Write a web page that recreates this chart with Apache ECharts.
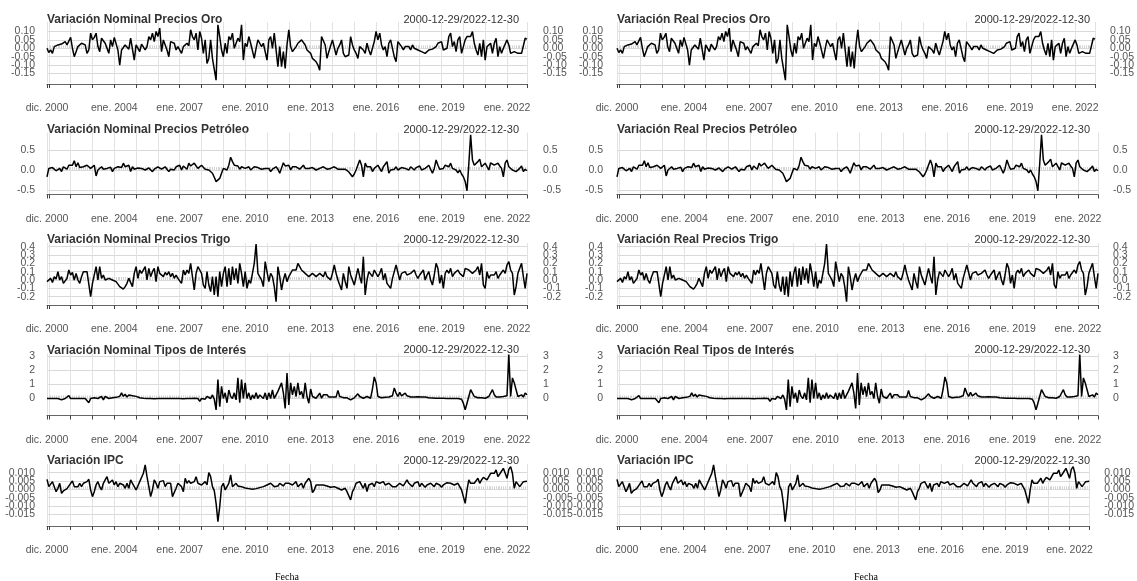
<!DOCTYPE html>
<html><head><meta charset="utf-8">
<script src="https://cdn.jsdelivr.net/npm/echarts@6/dist/echarts.min.js"></script>
<style>html,body{margin:0;padding:0;background:#fff}#c{width:1137px;height:581px}</style>
</head><body><div id="c"></div>
<script>
// Monthly observations, index 0 = dic. 2000 ... index 264 = dic. 2022
const oroNominal = [
0,-0.025,-0.01,-0.03,0.01,0.015,0.02,0.01,0.025,0.015,
0.04,0.02,0.01,0.065,0,-0.05,-0.02,0.01,0.01,0.03,
0.025,0.02,-0.03,-0.01,0.09,0.05,0.065,0.09,0.01,-0.02,
0.06,0.045,0.03,0.03,-0.03,0.05,0.01,0.065,0.055,-0.01,
-0.1,-0.01,0,0.02,0.03,-0.005,0.06,0.05,-0.07,0.02,
0.01,-0.02,0.025,0.03,-0.01,0.01,0.07,0.05,0.09,0.04,
0.1,0.07,0.12,-0.02,0.05,0.05,-0.01,-0.05,0.04,0.05,
0.03,-0.01,0.01,0.01,-0.03,0.01,0.02,0.03,0.015,0.11,
0.07,0.05,0.09,-0.01,0.1,0.06,-0.03,0.05,-0.09,-0.06,
0.05,-0.06,-0.05,-0.19,0.14,0.07,-0.01,-0.05,0.03,-0.03,
0.07,0.05,0.09,0,-0.01,0.06,0.04,0.14,-0.07,0.03,
0.01,0.07,0.03,0.04,-0.06,0,0.05,0.03,0.01,0.03,
0.03,-0.07,0.05,0.07,0,0.09,0.1,-0.11,0.01,-0.11,
-0.02,-0.12,0.02,0.11,0.01,-0.02,-0.03,0.01,0.03,0.04,
0.05,0.055,0.02,-0.01,-0.02,-0.03,-0.06,-0.07,-0.08,-0.1,
-0.13,0.07,0.07,0.02,-0.06,-0.02,-0.01,0.05,0.06,-0.04,
0,0.02,0.05,-0.03,-0.05,-0.06,-0.04,0.07,0.02,-0.01,
-0.03,-0.06,0.01,0,-0.01,-0.03,0.03,-0.01,-0.04,0,
0.04,0.1,0.05,0.09,0.02,-0.01,0.01,-0.05,0.03,0.05,
0,-0.05,-0.08,0.04,0.03,0.01,-0.01,0.01,0.02,0.01,
-0.01,0.02,0,-0.01,-0.01,-0.02,-0.02,-0.03,-0.03,-0.02,
-0.01,0,-0.005,-0.01,0.01,0.03,0.02,0.04,-0.01,0,
0,0.07,0.09,0.01,0.04,-0.02,0.05,0.07,-0.03,0.01,
0.05,0.07,0.06,0.07,0.1,0.03,-0.01,-0.04,0.03,-0.05,
0.05,-0.07,0.01,0.01,0.03,-0.03,0.03,0.06,-0.05,0.01,
-0.03,0,0,0.05,0.02,-0.03,-0.02,-0.02,-0.025,-0.03,
-0.03,-0.03,-0.02,0.06,0.055];
const oroReal = [
0,-0.025,-0.01,-0.03,0.01,0.015,0.02,0.01,0.025,0.015,
0.04,0.02,0.01,0.065,0,-0.05,-0.02,0.01,0.01,0.03,
0.025,0.02,-0.03,-0.01,0.09,0.05,0.065,0.09,0.01,-0.02,
0.06,0.045,0.03,0.03,-0.03,0.05,0.01,0.065,0.055,-0.01,
-0.1,-0.01,0,0.02,0.03,-0.005,0.06,0.05,-0.07,0.02,
0.01,-0.02,0.025,0.03,-0.01,0.01,0.07,0.05,0.09,0.04,
0.1,0.07,0.12,-0.02,0.05,0.05,-0.01,-0.05,0.04,0.05,
0.03,-0.01,0.01,0.01,-0.03,0.01,0.02,0.03,0.015,0.11,
0.07,0.05,0.09,-0.01,0.1,0.06,-0.03,0.05,-0.09,-0.06,
0.05,-0.06,-0.05,-0.19,0.14,0.07,-0.01,-0.05,0.03,-0.03,
0.07,0.05,0.09,0,-0.01,0.06,0.04,0.14,-0.07,0.03,
0.01,0.07,0.03,0.04,-0.06,0,0.05,0.03,0.01,0.03,
0.03,-0.07,0.05,0.07,0,0.09,0.1,-0.11,0.01,-0.11,
-0.02,-0.12,0.02,0.11,0.01,-0.02,-0.03,0.01,0.03,0.04,
0.05,0.055,0.02,-0.01,-0.02,-0.03,-0.06,-0.07,-0.08,-0.1,
-0.13,0.07,0.07,0.02,-0.06,-0.02,-0.01,0.05,0.06,-0.04,
0,0.02,0.05,-0.03,-0.05,-0.06,-0.04,0.07,0.02,-0.01,
-0.03,-0.06,0.01,0,-0.01,-0.03,0.03,-0.01,-0.04,0,
0.04,0.1,0.05,0.09,0.02,-0.01,0.01,-0.05,0.03,0.05,
0,-0.05,-0.08,0.04,0.03,0.01,-0.01,0.01,0.02,0.01,
-0.01,0.02,0,-0.01,-0.01,-0.02,-0.02,-0.03,-0.03,-0.02,
-0.01,0,-0.005,-0.01,0.01,0.03,0.02,0.04,-0.01,0,
0,0.07,0.09,0.01,0.04,-0.02,0.05,0.07,-0.03,0.01,
0.05,0.07,0.06,0.07,0.1,0.03,-0.01,-0.04,0.03,-0.05,
0.05,-0.07,0.01,0.01,0.03,-0.03,0.03,0.06,-0.05,0.01,
-0.03,0,0,0.05,0.02,-0.03,-0.02,-0.02,-0.025,-0.03,
-0.03,-0.03,-0.02,0.06,0.055];
const petroleoNominal = [
-0.17,0.04,0.02,0.06,0.08,-0.02,0.02,0.04,-0.04,0.08,
0.04,0.02,0.12,0.08,0.12,0.23,0.08,0.18,0.06,0.04,
0.08,0.1,0.12,0.08,0.04,0,0.12,-0.15,0,0.04,
0.08,0.02,0.03,0.04,0.08,0.07,-0.04,0.04,0.02,0.08,
0.04,0.06,0.17,0.08,0.1,0.12,-0.04,0.08,0.02,0,
0.05,0.1,0.04,0.02,0,0.02,0.05,0.08,-0.04,0.02,
0.06,0.08,0.04,0.02,0,0.08,0.02,-0.04,0.02,0.04,
0,0.08,0.1,0.12,0,0.1,0.05,0.02,0.17,0.1,
0.08,0.17,0.1,0.04,0.08,0.12,0.08,0.02,0.02,0,
-0.04,-0.08,-0.18,-0.29,-0.24,-0.21,-0.08,0.04,0.02,0,
0.12,0.32,0.21,0.12,0.17,0.1,0.02,0.08,0.04,0.04,
0.06,0.08,0,0.04,0.08,0.04,0.06,0.08,0.02,0,
0.04,0.08,0.04,-0.04,0.02,0.04,0.08,0.02,-0.08,0.05,
0.18,0.1,0.08,0.12,0,0.08,0.06,0.08,0.04,0.02,
0.06,0.12,0.04,0,0.04,0.08,0.06,0.04,0,0.02,
0.04,0.06,0.08,0.04,0.02,0.03,0.04,0.06,0.08,0.04,
0.02,0,0.02,0.04,0.02,0,-0.05,-0.08,-0.17,-0.1,
0,0.04,0.25,0.12,-0.17,0.17,0.08,0.04,0.08,-0.04,
0.04,0.08,0.12,0.17,-0.04,0.08,0.12,0.21,-0.08,0,
0.04,0.02,0.08,0,0.04,0.06,0.08,0.04,0.02,0,
0.08,0.04,0,0.06,0.08,0.1,0,0.02,0.04,0.08,
0.12,0.02,-0.08,0.04,0.25,0.12,0.02,0,0.04,0.12,
0.1,0.08,0.17,0.04,0.02,0,-0.07,0,-0.1,-0.17,
-0.29,-0.52,0.15,0.88,0.25,0.12,0.12,0.21,0.27,0.08,
0.12,0.17,0.12,0,0.18,0.15,0.12,0.08,0.17,0.1,
0.04,-0.17,0.17,0.25,0.08,0.04,0,0.04,-0.04,-0.04,
0.04,0.1,-0.04,0.02,-0.02];
const petroleoReal = [
-0.17,0.04,0.02,0.06,0.08,-0.02,0.02,0.04,-0.04,0.08,
0.04,0.02,0.12,0.08,0.12,0.23,0.08,0.18,0.06,0.04,
0.08,0.1,0.12,0.08,0.04,0,0.12,-0.15,0,0.04,
0.08,0.02,0.03,0.04,0.08,0.07,-0.04,0.04,0.02,0.08,
0.04,0.06,0.17,0.08,0.1,0.12,-0.04,0.08,0.02,0,
0.05,0.1,0.04,0.02,0,0.02,0.05,0.08,-0.04,0.02,
0.06,0.08,0.04,0.02,0,0.08,0.02,-0.04,0.02,0.04,
0,0.08,0.1,0.12,0,0.1,0.05,0.02,0.17,0.1,
0.08,0.17,0.1,0.04,0.08,0.12,0.08,0.02,0.02,0,
-0.04,-0.08,-0.18,-0.29,-0.24,-0.21,-0.08,0.04,0.02,0,
0.12,0.32,0.21,0.12,0.17,0.1,0.02,0.08,0.04,0.04,
0.06,0.08,0,0.04,0.08,0.04,0.06,0.08,0.02,0,
0.04,0.08,0.04,-0.04,0.02,0.04,0.08,0.02,-0.08,0.05,
0.18,0.1,0.08,0.12,0,0.08,0.06,0.08,0.04,0.02,
0.06,0.12,0.04,0,0.04,0.08,0.06,0.04,0,0.02,
0.04,0.06,0.08,0.04,0.02,0.03,0.04,0.06,0.08,0.04,
0.02,0,0.02,0.04,0.02,0,-0.05,-0.08,-0.17,-0.1,
0,0.04,0.25,0.12,-0.17,0.17,0.08,0.04,0.08,-0.04,
0.04,0.08,0.12,0.17,-0.04,0.08,0.12,0.21,-0.08,0,
0.04,0.02,0.08,0,0.04,0.06,0.08,0.04,0.02,0,
0.08,0.04,0,0.06,0.08,0.1,0,0.02,0.04,0.08,
0.12,0.02,-0.08,0.04,0.25,0.12,0.02,0,0.04,0.12,
0.1,0.08,0.17,0.04,0.02,0,-0.07,0,-0.1,-0.17,
-0.29,-0.52,0.15,0.88,0.25,0.12,0.12,0.21,0.27,0.08,
0.12,0.17,0.12,0,0.18,0.15,0.12,0.08,0.17,0.1,
0.04,-0.17,0.17,0.25,0.08,0.04,0,0.04,-0.04,-0.04,
0.04,0.1,-0.04,0.02,-0.02];
const trigoNominal = [
-0.02,0,0.02,-0.03,0.04,0.01,0.1,0,0.04,-0.04,
-0.04,0.02,0.12,0.06,0.09,0,0.08,0,-0.04,0.04,
0.1,0.1,0.1,0.1,-0.2,-0.04,-0.02,0.16,0,0.16,
0.02,0.06,0,-0.02,0.02,0.02,0,0.02,-0.02,0,
-0.08,-0.1,-0.11,-0.08,-0.04,0.02,0.02,-0.08,0.08,0.16,
0.02,0.12,0.08,0.06,0.16,0,0.14,0.04,0.1,0.14,
-0.02,0.16,0.08,0.08,0.04,0.09,0.06,0.1,0.04,0.08,
0.02,0.06,0.02,0,-0.04,0.12,0.06,0.12,0.08,0.2,
0.22,-0.12,0.08,0.16,0.12,0.08,-0.06,-0.1,0.1,-0.06,
-0.14,0.04,-0.18,0.04,-0.2,0.1,-0.08,0.08,0.16,-0.08,
0.14,-0.06,0.16,0,0.14,-0.04,0.2,0.08,-0.08,0.1,
-0.1,0,-0.04,0.08,0.2,0.43,0.08,0.06,0,-0.08,
0.22,0.1,-0.02,0.08,0.04,-0.08,-0.26,0.16,0.04,-0.12,
0,0.08,-0.02,0.04,0.04,0.12,0.1,0.12,0.2,0.16,
0.12,0.1,0.08,0.06,0.04,0.02,0.08,0.06,0.04,0.06,
0.08,0.06,0.04,0.1,0.04,0.02,0,0.08,0.18,0.08,
0,-0.06,-0.12,0.08,-0.02,-0.1,0.16,0.06,0,-0.06,
0.04,0.14,0.04,-0.04,0.28,-0.18,0,0.1,0.08,0.04,
0.12,0.1,0.04,0.08,0.14,0,0.08,-0.04,-0.06,-0.1,
0.02,0.1,0.18,0.16,0,0.08,0.06,0.1,0.06,0.04,
0.08,0.1,0.12,0.06,0.02,0.06,0.08,0.12,0,0.06,
0.1,0,-0.06,0.06,0.2,0.14,-0.04,0.06,-0.1,0.08,
0.12,0.08,0.14,0.04,0.08,0.1,0.12,0.08,0.06,0.04,
0.14,0.16,0.12,0.14,0.08,0.1,0.12,0.16,0.06,0.2,
-0.06,-0.1,0.1,0.02,0.06,0.04,0.06,0.1,0.02,0.06,
0.08,0.12,0.08,0.18,0.22,0.12,0.08,-0.18,-0.08,0.08,
0.08,0.2,0.04,-0.1,0.08];
const trigoReal = [
-0.02,0,0.02,-0.03,0.04,0.01,0.1,0,0.04,-0.04,
-0.04,0.02,0.12,0.06,0.09,0,0.08,0,-0.04,0.04,
0.1,0.1,0.1,0.1,-0.2,-0.04,-0.02,0.16,0,0.16,
0.02,0.06,0,-0.02,0.02,0.02,0,0.02,-0.02,0,
-0.08,-0.1,-0.11,-0.08,-0.04,0.02,0.02,-0.08,0.08,0.16,
0.02,0.12,0.08,0.06,0.16,0,0.14,0.04,0.1,0.14,
-0.02,0.16,0.08,0.08,0.04,0.09,0.06,0.1,0.04,0.08,
0.02,0.06,0.02,0,-0.04,0.12,0.06,0.12,0.08,0.2,
0.22,-0.12,0.08,0.16,0.12,0.08,-0.06,-0.1,0.1,-0.06,
-0.14,0.04,-0.18,0.04,-0.2,0.1,-0.08,0.08,0.16,-0.08,
0.14,-0.06,0.16,0,0.14,-0.04,0.2,0.08,-0.08,0.1,
-0.1,0,-0.04,0.08,0.2,0.43,0.08,0.06,0,-0.08,
0.22,0.1,-0.02,0.08,0.04,-0.08,-0.26,0.16,0.04,-0.12,
0,0.08,-0.02,0.04,0.04,0.12,0.1,0.12,0.2,0.16,
0.12,0.1,0.08,0.06,0.04,0.02,0.08,0.06,0.04,0.06,
0.08,0.06,0.04,0.1,0.04,0.02,0,0.08,0.18,0.08,
0,-0.06,-0.12,0.08,-0.02,-0.1,0.16,0.06,0,-0.06,
0.04,0.14,0.04,-0.04,0.28,-0.18,0,0.1,0.08,0.04,
0.12,0.1,0.04,0.08,0.14,0,0.08,-0.04,-0.06,-0.1,
0.02,0.1,0.18,0.16,0,0.08,0.06,0.1,0.06,0.04,
0.08,0.1,0.12,0.06,0.02,0.06,0.08,0.12,0,0.06,
0.1,0,-0.06,0.06,0.2,0.14,-0.04,0.06,-0.1,0.08,
0.12,0.08,0.14,0.04,0.08,0.1,0.12,0.08,0.06,0.04,
0.14,0.16,0.12,0.14,0.08,0.1,0.12,0.16,0.06,0.2,
-0.06,-0.1,0.1,0.02,0.06,0.04,0.06,0.1,0.02,0.06,
0.08,0.12,0.08,0.18,0.22,0.12,0.08,-0.18,-0.08,0.08,
0.08,0.2,0.04,-0.1,0.08];
const tiposNominal = [
0,0.05,0,-0.05,0,0,0,-0.05,-0.1,-0.05,
0,-0.05,0.2,0,0,0,0,0,0.02,0,
0,0,-0.05,-0.3,0,-0.02,0.05,0,0,0.05,
0.15,-0.1,0.15,0.02,0,0.05,0.05,0.1,0.08,0.1,
0.15,0.4,0.15,0.3,0.1,0.25,0.3,0.2,0.1,0.15,
0.1,0.05,0.03,0.02,0,0,0.02,0,0,-0.02,
0,0,0.02,0,0,0,-0.02,0,0,0,
0.02,0,0,0,0,-0.02,0,0,0,0,
0,0.02,0,0,-0.2,0,0.05,-0.05,0.15,0.15,
0,0.25,-0.05,-0.8,1.33,-0.57,0.86,0,0.4,-0.3,
0.6,0.15,0,0.4,-0.1,1.45,-0.3,1.33,0,1.1,
0,0.4,-0.1,0.25,0,0.4,0,0.25,0.15,0,
0.4,-0.1,0.4,0,0.6,0,0.25,0.5,0.6,1.1,
0.4,-0.7,1.8,-0.45,1.1,0.26,0.86,0.14,1.1,0.26,
0.5,0,1.1,0.14,-0.33,0.67,0.14,0.26,0.02,0.1,
0.38,0.02,0.26,0.14,0.26,0.1,0.02,0.1,0.1,0.1,
0.57,0.14,0.02,0.06,0.1,0.05,-0.05,-0.1,0.02,0.05,
0.14,0.33,0.14,0.05,0.02,0.1,0.14,0.05,0.02,0.67,
1.52,1.1,0.14,0.02,0.05,0.1,0.08,0.1,0.1,0.08,
0.19,0.74,0.38,0.14,0.43,0.19,0.1,0.38,0.19,0.1,
0.1,0.14,0.1,0.1,0.12,0.19,0.1,0.1,0.1,0.08,
0.06,0.05,0.04,0.03,0.02,0.02,0.02,0.02,0.01,0.01,
0,0,0,0,0,0,0,0,-0.05,-0.33,
-0.8,-0.33,0.14,0.62,0.38,0.14,0.1,0.05,0.02,0.05,
0.1,0.02,0,0.14,0.02,0.62,0.26,0.1,0.1,0.1,
0.12,0.14,0.19,0.19,3.1,0.14,1.45,1.1,0.62,0.14,
0.1,0.26,0.1,0.38,0.26];
const tiposReal = [
0,0.05,0,-0.05,0,0,0,-0.05,-0.1,-0.05,
0,-0.05,0.2,0,0,0,0,0,0.02,0,
0,0,-0.05,-0.3,0,-0.02,0.05,0,0,0.05,
0.15,-0.1,0.15,0.02,0,0.05,0.05,0.1,0.08,0.1,
0.15,0.4,0.15,0.3,0.1,0.25,0.3,0.2,0.1,0.15,
0.1,0.05,0.03,0.02,0,0,0.02,0,0,-0.02,
0,0,0.02,0,0,0,-0.02,0,0,0,
0.02,0,0,0,0,-0.02,0,0,0,0,
0,0.02,0,0,-0.2,0,0.05,-0.05,0.15,0.15,
0,0.25,-0.05,-0.8,1.33,-0.57,0.86,0,0.4,-0.3,
0.6,0.15,0,0.4,-0.1,1.45,-0.3,1.33,0,1.1,
0,0.4,-0.1,0.25,0,0.4,0,0.25,0.15,0,
0.4,-0.1,0.4,0,0.6,0,0.25,0.5,0.6,1.1,
0.4,-0.7,1.8,-0.45,1.1,0.26,0.86,0.14,1.1,0.26,
0.5,0,1.1,0.14,-0.33,0.67,0.14,0.26,0.02,0.1,
0.38,0.02,0.26,0.14,0.26,0.1,0.02,0.1,0.1,0.1,
0.57,0.14,0.02,0.06,0.1,0.05,-0.05,-0.1,0.02,0.05,
0.14,0.33,0.14,0.05,0.02,0.1,0.14,0.05,0.02,0.67,
1.52,1.1,0.14,0.02,0.05,0.1,0.08,0.1,0.1,0.08,
0.19,0.74,0.38,0.14,0.43,0.19,0.1,0.38,0.19,0.1,
0.1,0.14,0.1,0.1,0.12,0.19,0.1,0.1,0.1,0.08,
0.06,0.05,0.04,0.03,0.02,0.02,0.02,0.02,0.01,0.01,
0,0,0,0,0,0,0,0,-0.05,-0.33,
-0.8,-0.33,0.14,0.62,0.38,0.14,0.1,0.05,0.02,0.05,
0.1,0.02,0,0.14,0.02,0.62,0.26,0.1,0.1,0.1,
0.12,0.14,0.19,0.19,3.1,0.14,1.45,1.1,0.62,0.14,
0.1,0.26,0.1,0.38,0.26];
const ipc = [
0.006,0.0016,0.0006,0.0046,0.0036,-0.0014,0.0006,0.0036,-0.0024,-0.001,
-0.0004,0.0004,0.0016,0.0036,0.005,0.0016,0.0026,0.0016,0.0036,0.0016,
0.0036,0.0046,0.0046,0.006,-0.0004,-0.0044,-0.0014,0.0026,0.0046,0.0016,
-0.0004,0.0036,0.0056,0.0076,0.0036,0.0026,0.0056,0.0026,0.0046,0.0016,
0.0036,0.0046,0.0026,0.0006,0.0036,0.0006,0.0056,0.0036,0.0016,-0.0004,
0.0006,0.0046,0.0036,0.0096,0.0146,0.0076,0.0016,-0.0044,-0.0004,0.0056,
0.0036,0.0006,0.0046,0.0036,0.0052,0.0016,0.0036,0.0046,0.0036,-0.0044,
-0.0034,0.0006,0.0036,0.0046,0.0016,-0.0014,0.0066,0.0036,0.0052,0.0036,
0.0026,0.0046,0.0076,0.0036,0.0036,0.0026,0.0036,0.0046,0.0026,0.01,
0.0076,0.0016,-0.0008,-0.0084,-0.0194,-0.0104,0.0016,0.0036,-0.0004,0.0006,
0.0036,0.0086,0.0016,0.0026,0.0036,0.002,0.0012,0.0016,0.0012,0.0008,
0.0006,0.0004,0.0002,0,0,0.0004,0.0006,0.001,0.0012,0.0016,
0.002,0.0026,0.0026,0.0036,0.0036,0.0016,0.0026,0.002,0.0036,0.0026,
0.002,0.0036,0.0036,0.0036,0.0046,0.0026,0.0036,0.0046,0.0016,0.0026,
0.0036,0.0006,0.0036,0.0046,0.0066,0.0046,-0.002,-0.0004,0.0026,0.0026,
0.0026,0.0026,0.0026,0.002,0.002,0.0016,0.0012,0.0012,0.0016,0.0016,
0.0006,0.0006,-0.0004,-0.0004,0.0006,-0.0014,-0.002,-0.0064,-0.0014,0.0006,
0.0036,0.0046,0.0046,0.0036,0.0006,0.0036,-0.0014,0.0026,0.0026,0.0036,
0.0016,0.0046,0.0036,0.0036,0.0026,0.0046,0.0026,0.0016,0.0036,0.0046,
0.0016,0.0026,0.0016,0.0006,0.0036,0.0024,0.002,0.0016,0.0056,0.0036,
0.0026,0.0016,0.0036,0.0026,0.0046,0.0016,0.0036,0.0026,0.0012,0.0026,
0.0036,0.0036,0.004,0.0016,0.0036,0.0026,0.0026,0.0012,0.0026,0.0036,
0.004,0.0046,0.0036,0.0036,0.0026,0.0026,0.0036,0.003,-0.0004,-0.0044,
-0.0084,-0.0004,0.0056,0.0036,0.0036,0.0036,0.0046,0.0066,0.0036,0.0056,
0.0072,0.0076,0.0056,0.0066,0.0096,0.0086,0.0096,0.0116,0.0076,0.0092,
0.008,0.0126,0.0096,0.0066,0.012,0.0136,0.0096,0.0006,0.0046,0.0052,
0.0016,0.0006,0.0046,0.0052,0.0048];

const xLabelIdx  = [0, 37, 73, 109, 145, 181, 217, 253];
const xLabelText = ['dic. 2000','ene. 2004','ene. 2007','ene. 2010','ene. 2013','ene. 2016','ene. 2019','ene. 2022'];
const xTickIdx   = [0,1,13,25,37,49,61,73,85,97,109,121,133,145,157,169,181,193,205,217,229,241,253,264];
const oroTicks      = [-0.15,-0.10,-0.05,0,0.05,0.10];
const petroleoTicks = [-0.5,0,0.5];
const trigoTicks    = [-0.2,-0.1,0,0.1,0.2,0.3,0.4];
const tiposTicks    = [0,1,2,3];
const ipcTicks      = [-0.015,-0.010,-0.005,0,0.005,0.010];
const titlesLeft  = ['Variación Nominal Precios Oro','Variación Nominal Precios Petróleo','Variación Nominal Precios Trigo','Variación Nominal Tipos de Interés','Variación IPC'];
const titlesRight = ['Variación Real Precios Oro','Variación Real Precios Petróleo','Variación Real Precios Trigo','Variación Real Tipos de Interés','Variación IPC'];
const dateRange = '2000-12-29/2022-12-30';
const xName = 'Fecha';

const rowsCfg = [
  {min:-0.2065, max:0.1565, ticks:oroTicks, dec:2},
  {min:-0.5875, max:0.9375, ticks:petroleoTicks, dec:1},
  {min:-0.288, max:0.444, ticks:trigoTicks, dec:1},
  {min:-1.127, max:3.17, ticks:tiposTicks, dec:0},
  {min:-0.02143, max:0.01519, ticks:ipcTicks, dec:3}
];
const colsCfg = [
  {left:47, width:480, lm:12, rm:16, titles:titlesLeft, data:[oroNominal,petroleoNominal,trigoNominal,tiposNominal,ipc], fecha:287},
  {left:617, width:481, lm:14, rm:15, titles:titlesRight, data:[oroReal,petroleoReal,trigoReal,tiposReal,ipc], fecha:866}
];
const FONT = "'Liberation Sans', Arial, sans-serif";
const labelMap = {};
xLabelIdx.forEach((v,i)=>{ labelMap[v] = xLabelText[i]; });

const grids=[], xAxes=[], yAxes=[], series=[], graphics=[];
colsCfg.forEach((col,c)=>{
  rowsCfg.forEach((row,r)=>{
    const k = grids.length;
    const top = 22 + 110.5*r;
    grids.push({left:col.left, top:top, width:col.width, height:61, containLabel:false});
    xAxes.push({type:'value', gridIndex:k, min:0, max:264, position:'bottom', offset:1,
      axisLine:{show:true, onZero:false, lineStyle:{color:'#666', width:1}},
      axisTick:{show:true, customValues:xTickIdx, length:4, lineStyle:{color:'#444', width:1}},
      axisLabel:{show:true, customValues:xLabelIdx, formatter:v=>labelMap[v]||'', margin:19,
        fontSize:10.5, fontFamily:FONT, color:'#555', showMinLabel:true, showMaxLabel:true, hideOverlap:false},
      splitLine:{show:true, lineStyle:{color:'#e2e2e2', width:1}}
    });
    xAxes.push({type:'value', gridIndex:k, min:0, max:264, interval:1, position:'bottom', offset:0,
      axisLine:{show:false}, axisTick:{show:true, inside:true, length:3, lineStyle:{color:'#d4d4d4', width:1}},
      axisLabel:{show:false}, splitLine:{show:false}
    });
    const fmt = v => Number(v).toFixed(row.dec);
    // split the tick list in two interleaved sets so labels never collide within one axis
    const tickSets = [row.ticks.filter((v,i)=>i%2===0), row.ticks.filter((v,i)=>i%2===1)];
    ['left','right'].forEach(pos=>{
      tickSets.forEach(ts=>{
        yAxes.push({type:'value', gridIndex:k, min:row.min, max:row.max, position:pos, offset:0,
          axisLine:{show:false}, axisTick:{show:false, customValues:ts},
          axisLabel:{customValues:ts, formatter:fmt, margin:pos==='left'?col.lm:col.rm, fontSize:10.5,
            fontFamily:FONT, color:'#555', showMinLabel:true, showMaxLabel:true},
          splitLine:{show:pos==='left', lineStyle:{color:'#d9d9d9', width:1}}
        });
      });
    });
    const arr = col.data[r];
    series.push({type:'line', xAxisIndex:2*k, yAxisIndex:4*k, data:arr.map((v,i)=>[i,v]),
      showSymbol:false, symbol:'none', clip:false, silent:true,
      lineStyle:{color:'#000', width:1.5}});
    const yT = 19.5 + 110.25*r;
    graphics.push({type:'text', x:col.left, y:yT, silent:true,
      style:{text:col.titles[r], font:"bold 12px "+FONT, fill:'#333', textAlign:'left', textVerticalAlign:'middle', align:'left', verticalAlign:'middle'}});
    graphics.push({type:'text', x:col.left+col.width-8, y:yT, silent:true,
      style:{text:dateRange, font:"11px "+FONT, fill:'#333', textAlign:'right', textVerticalAlign:'middle', align:'right', verticalAlign:'middle'}});
  });
  graphics.push({type:'text', x:col.fecha, y:577, silent:true,
    style:{text:xName, font:"10px 'Liberation Serif', serif", fill:'#000', textAlign:'center', textVerticalAlign:'middle', align:'center', verticalAlign:'middle'}});
});

const chart = echarts.init(document.getElementById('c'), null, {renderer:'canvas'});
chart.setOption({animation:false, backgroundColor:'#fff', grid:grids, xAxis:xAxes, yAxis:yAxes, series:series, graphic:graphics, tooltip:{show:false}});
</script></body></html>
